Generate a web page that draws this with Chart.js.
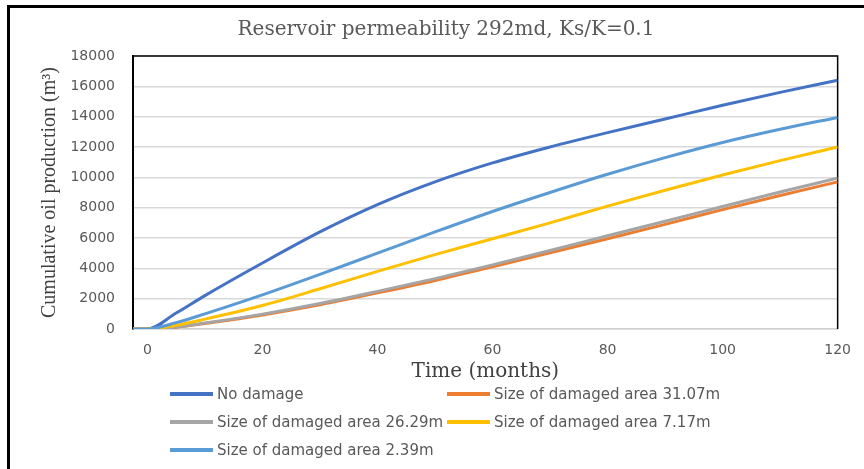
<!DOCTYPE html>
<html>
<head>
<meta charset="utf-8">
<script src="https://cdn.jsdelivr.net/npm/chart.js@4.4.1/dist/chart.umd.min.js"></script>
<style>
  body { margin: 0; background: #fff; overflow: hidden; }
  #wrap { position: relative; width: 864px; height: 469px; }
  #title {
    position: absolute; left: 446px; top: 16px; transform: translateX(-50%);
    white-space: nowrap; font: 20px "DejaVu Serif"; color: #595959;
  }
  .item {
    position: absolute; display: flex; align-items: center; white-space: nowrap;
    font: 15px "DejaVu Sans"; color: #595959; height: 20px;
  }
  .swatch { width: 43px; height: 3.5px; margin-right: 4px; }
</style>
</head>
<body>
<div id="wrap">
  <canvas id="chart" width="864" height="469"></canvas>
  <div id="title">Reservoir permeability 292md, Ks/K=0.1</div>
  <div id="legend"></div>
</div>
<script>
// months
const times = [-2.5, 0, 5, 10, 20, 30, 40, 50, 60, 70, 80, 90, 100, 110, 120];
const xTicks = [0, 20, 40, 60, 80, 100, 120];
const yTicks = [0, 2000, 4000, 6000, 8000, 10000, 12000, 14000, 16000, 18000];

// cumulative oil production, m3
const noDamage = [0, 0, 1050, 2200, 4350, 6400, 8200, 9700, 10950, 12000, 12950, 13850, 14750, 15600, 16400];
const area3107 = [0, 0, 120, 360, 930, 1600, 2380, 3200, 4100, 5020, 5950, 6900, 7870, 8800, 9700];
const area2629 = [0, 0, 130, 390, 980, 1680, 2480, 3320, 4230, 5180, 6150, 7100, 8080, 9030, 9950];
const area717 = [0, 0, 250, 650, 1550, 2650, 3800, 4900, 5950, 7000, 8100, 9150, 10150, 11100, 12000];
const area239 = [0, 0, 420, 1000, 2250, 3600, 5000, 6400, 7750, 9000, 10200, 11300, 12300, 13170, 13950];

const seriesNames = ['No damage', 'Size of damaged area 31.07m', 'Size of damaged area 26.29m',
    'Size of damaged area 7.17m', 'Size of damaged area 2.39m'];
const seriesData = [noDamage, area3107, area2629, area717, area239];
const colors = ['#4472C4', '#ED7D31', '#A5A5A5', '#FFC000', '#5B9BD5'];

const toPoints = (vals) => vals.map((v, i) => ({ x: times[i], y: v }));

// top/right frame of the plot and the outer border
const framePlugin = {
    id: 'frame',
    beforeDatasetsDraw(chart) {
        const { ctx, chartArea: a } = chart;
        ctx.save();
        ctx.strokeStyle = '#000';
        ctx.lineWidth = 1.5;
        ctx.beginPath();
        ctx.moveTo(a.left, a.top);
        ctx.lineTo(a.right, a.top);
        ctx.lineTo(a.right, a.bottom);
        ctx.stroke();
        ctx.restore();
    },
    afterDraw(chart) {
        const ctx = chart.ctx;
        ctx.save();
        ctx.strokeStyle = '#000';
        ctx.lineWidth = 3;
        ctx.beginPath();
        ctx.moveTo(8.5, 470);
        ctx.lineTo(8.5, 6.5);
        ctx.lineTo(866, 6.5);
        ctx.stroke();
        ctx.restore();
    }
};

const chart = new Chart(document.getElementById('chart'), {
    type: 'line',
    data: {
        datasets: seriesData.map((vals, i) => ({
            label: seriesNames[i],
            data: toPoints(vals),
            borderColor: colors[i],
            backgroundColor: colors[i],
            borderWidth: 3,
            pointRadius: 0,
            cubicInterpolationMode: 'monotone',
            order: seriesData.length - i
        }))
    },
    options: {
        responsive: false,
        animation: false,
        layout: { padding: { left: 8, top: 56, right: 23, bottom: 84 } },
        plugins: {
            legend: { display: false },
            title: { display: false },
            tooltip: { enabled: false }
        },
        scales: {
            x: {
                type: 'linear',
                min: -2.5,
                max: 120,
                afterBuildTicks: (s) => { s.ticks = xTicks.map(v => ({ value: v })); },
                afterFit: (s) => { s.height = 56; },
                grid: { display: false, drawTicks: false },
                border: { color: '#D0D0D0', width: 1.5 },
                ticks: {
                    padding: 13,
                    maxRotation: 0,
                    color: '#595959',
                    font: { family: 'DejaVu Sans', size: 14 },
                    callback: (v) => String(v)
                },
                title: {
                    display: true,
                    text: 'Time (months)',
                    color: '#404040',
                    font: { family: 'DejaVu Serif', size: 20 },
                    padding: { top: 0, bottom: 1 }
                }
            },
            y: {
                min: 0,
                max: 18000,
                afterBuildTicks: (s) => { s.ticks = yTicks.map(v => ({ value: v })); },
                afterFit: (s) => { s.width = 125; },
                grid: { color: '#D9D9D9', lineWidth: 1.5, drawTicks: false },
                border: { color: '#000', width: 2 },
                ticks: {
                    padding: 18,
                    color: '#595959',
                    font: { family: 'DejaVu Sans', size: 14 },
                    callback: (v) => String(v)
                },
                title: {
                    display: true,
                    text: 'Cumulative oil production (m³)',
                    color: '#404040',
                    font: { family: 'Liberation Serif', size: 20 },
                    padding: { top: 30, bottom: 0 }
                }
            }
        }
    },
    plugins: [framePlugin]
});

// legend, two items per row like the original
const legend = document.getElementById('legend');
const colX = [170, 447];
const rowY = [384, 412, 440];
chart.data.datasets.forEach((ds, i) => {
    const item = document.createElement('div');
    item.className = 'item';
    item.style.left = colX[i % 2] + 'px';
    item.style.top = rowY[Math.floor(i / 2)] + 'px';
    item.innerHTML = `<span class="swatch" style="background:${ds.borderColor}"></span>${ds.label}`;
    legend.appendChild(item);
});
</script>
</body>
</html>
